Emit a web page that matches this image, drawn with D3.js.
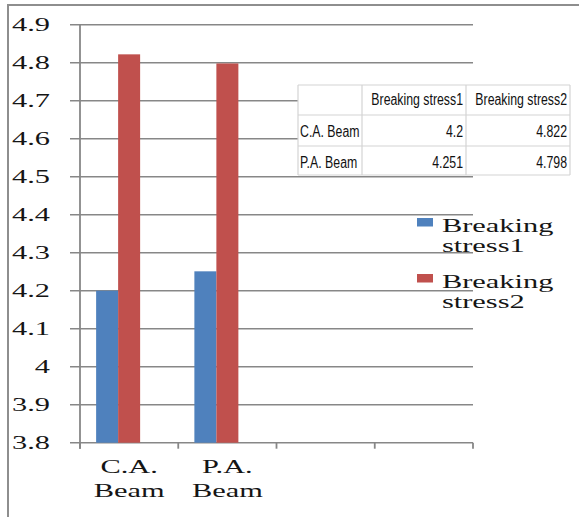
<!DOCTYPE html>
<html>
<head>
<meta charset="utf-8">
<script src="https://cdn.jsdelivr.net/npm/d3@7"></script>
<style>
  html, body { margin: 0; padding: 0; background: #fff; }
  svg { display: block; }
</style>
</head>
<body>
<svg id="chart" width="579" height="517"></svg>
<script>
// Category slots along the x axis (the last two are empty)
const categories = ["C.A. Beam", "P.A. Beam", "", ""];
const categoryLines = [["C.A.", "Beam"], ["P.A.", "Beam"], [], []];
// Series names and values
const seriesNames = ["Breaking stress1", "Breaking stress2"];
const stress1 = [4.2, 4.251];
const stress2 = [4.822, 4.798];
// Value axis ticks
const yTickValues = [3.8, 3.9, 4.0, 4.1, 4.2, 4.3, 4.4, 4.5, 4.6, 4.7, 4.8, 4.9];
const yTickLabels = ["3.8", "3.9", "4", "4.1", "4.2", "4.3", "4.4", "4.5", "4.6", "4.7", "4.8", "4.9"];
// Data table rows
const tableRowLabels = ["C.A. Beam", "P.A. Beam"];
const tableCol1 = ["4.2", "4.251"];
const tableCol2 = ["4.822", "4.798"];

const colors = ["#4f81bd", "#c0504d"];
const gridColor = "#878787";
const serif = "'Liberation Serif', 'Times New Roman', serif";
const stretch = 1.6;

const svg = d3.select("#chart");

const plot = { left: 80, right: 473, top: 24.7, bottom: 442.7 };

const y = d3.scaleLinear().domain([3.8, 4.9]).range([plot.bottom, plot.top]);
const x = d3.scaleBand().domain(d3.range(categories.length)).range([plot.left, plot.right]);
// three series slots per category; the third is unused
const xInner = d3.scaleBand().domain([0, 1, 2]).range([0, x.bandwidth()])
  .paddingInner(0).paddingOuter(0.733);

// outer frame (top and left edges)
svg.append("path")
  .attr("d", "M8,517 L8,5 L579,5")
  .attr("fill", "none").attr("stroke", "#8e8e8e").attr("stroke-width", 2);

// horizontal gridlines with left tick extension
svg.append("g").selectAll("line").data(yTickValues).join("line")
  .attr("x1", plot.left - 10).attr("x2", plot.right)
  .attr("y1", d => y(d)).attr("y2", d => y(d))
  .attr("stroke", gridColor).attr("stroke-width", 1.5);

// value axis line
svg.append("line")
  .attr("x1", plot.left).attr("x2", plot.left)
  .attr("y1", plot.top).attr("y2", plot.bottom + 6)
  .attr("stroke", gridColor).attr("stroke-width", 1.8);

// category axis ticks at band boundaries
const boundaries = d3.range(categories.length + 1).map(i => i < categories.length ? x(i) : plot.right);
svg.append("g").selectAll("line").data(boundaries).join("line")
  .attr("x1", d => d).attr("x2", d => d)
  .attr("y1", plot.bottom).attr("y2", plot.bottom + 6)
  .attr("stroke", gridColor).attr("stroke-width", 1.8);

// y tick labels
svg.append("g").selectAll("text").data(yTickValues).join("text")
  .attr("transform", d => `translate(50,${y(d) + 6.5}) scale(${stretch},1)`)
  .attr("text-anchor", "end")
  .attr("font-family", serif).attr("font-size", 19).attr("fill", "#151515")
  .text((d, i) => yTickLabels[i]);

// bars
const series = [stress1, stress2];
series.forEach((vals, s) => {
  svg.append("g").selectAll("rect").data(vals).join("rect")
    .attr("x", (d, i) => x(i) + xInner(s))
    .attr("width", xInner.bandwidth())
    .attr("y", d => y(d))
    .attr("height", d => y(3.8) - y(d))
    .attr("fill", colors[s]);
});

// category labels
categoryLines.forEach((lines, i) => {
  lines.forEach((t, j) => {
    svg.append("text")
      .attr("transform", `translate(${x(i) + x.bandwidth() / 2},${473 + j * 23.5}) scale(${stretch},1)`)
      .attr("text-anchor", "middle")
      .attr("font-family", serif).attr("font-size", 19).attr("fill", "#151515")
      .text(t);
  });
});

// data table
const table = svg.append("g");
const colX = [298, 362, 466, 570];
const rowY = [85, 115, 146, 175];
table.append("rect")
  .attr("x", colX[0]).attr("y", rowY[0])
  .attr("width", colX[3] - colX[0]).attr("height", rowY[3] - rowY[0])
  .attr("fill", "#fff");
const tStroke = "#d4d4d4";
colX.forEach(cx => table.append("line")
  .attr("x1", cx).attr("x2", cx).attr("y1", rowY[0]).attr("y2", rowY[3])
  .attr("stroke", tStroke).attr("stroke-width", 1.2));
rowY.forEach(ry => table.append("line")
  .attr("x1", colX[0]).attr("x2", colX[3]).attr("y1", ry).attr("y2", ry)
  .attr("stroke", tStroke).attr("stroke-width", 1.2));

const sans = "'Liberation Sans', Arial, sans-serif";
const tScale = 0.77;
function cell(txt, px, py, anchor) {
  table.append("text")
    .attr("transform", `translate(${px},${py}) scale(${tScale},1)`)
    .attr("text-anchor", anchor)
    .attr("font-family", sans).attr("font-size", 16).attr("fill", "#111")
    .text(txt);
}
cell(seriesNames[0], colX[2] - 3, 105, "end");
cell(seriesNames[1], colX[3] - 3, 105, "end");
tableRowLabels.forEach((r, i) => {
  const by = rowY[i + 1] + 21.5;
  cell(r, colX[0] + 2, by, "start");
  cell(tableCol1[i], colX[2] - 3, by, "end");
  cell(tableCol2[i], colX[3] - 3, by, "end");
});

// legend
const legend = svg.append("g");
seriesNames.forEach((name, i) => {
  const top = 218 + i * 56;
  legend.append("rect")
    .attr("x", 417).attr("y", top).attr("width", 16).attr("height", 8.5)
    .attr("fill", colors[i]);
  const words = name.replace(/(\d)$/, " $1").split(" ");
  const lines = [words[0], words[1] + words[2]];
  lines.forEach((t, j) => {
    legend.append("text")
      .attr("transform", `translate(442,${top + 13.5 + j * 20}) scale(${stretch},1)`)
      .attr("font-family", serif).attr("font-size", 19).attr("fill", "#151515")
      .text(t);
  });
});
</script>
</body>
</html>
